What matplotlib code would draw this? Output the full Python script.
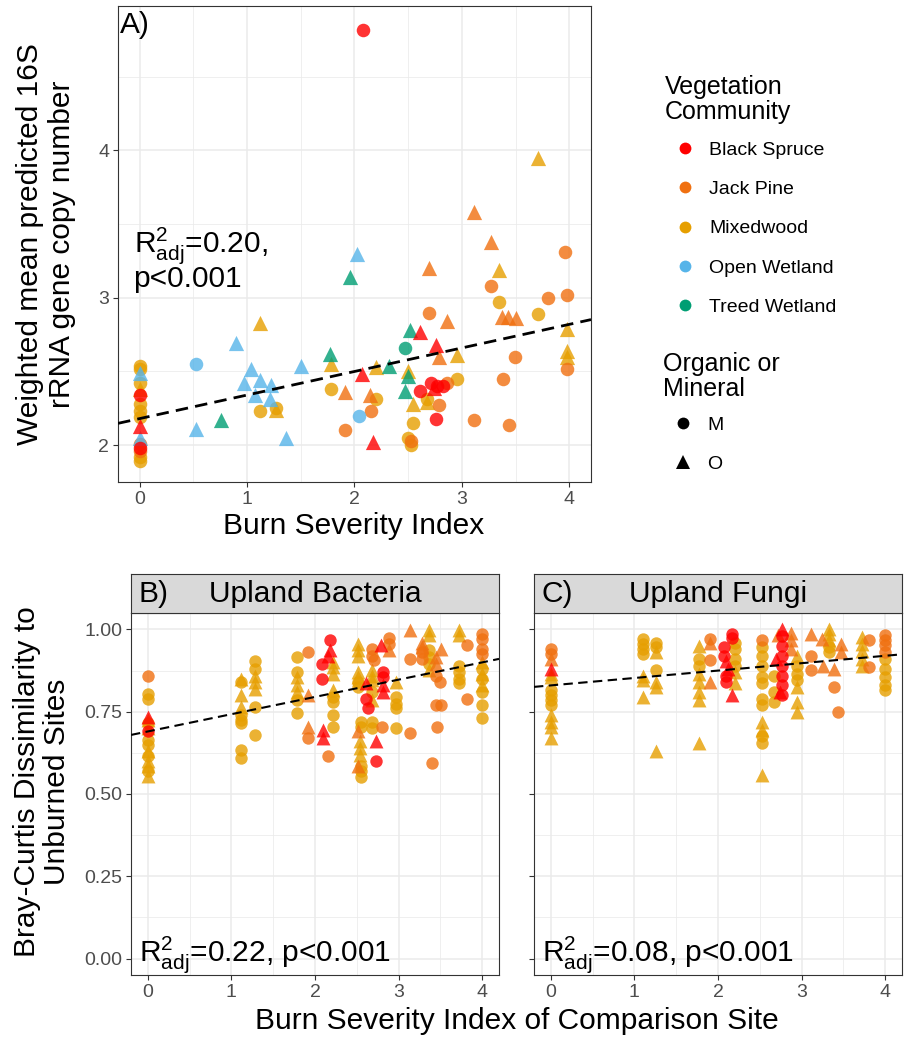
import numpy as np
import matplotlib
matplotlib.use("Agg")
import matplotlib.pyplot as plt
from matplotlib.lines import Line2D
from matplotlib.ticker import FixedLocator, FormatStrFormatter

plt.rcParams['font.family'] = ['Liberation Sans', 'DejaVu Sans']
plt.rcParams['mathtext.fontset'] = 'custom'
plt.rcParams['mathtext.rm'] = 'Liberation Sans'
plt.rcParams['mathtext.it'] = 'Liberation Sans:italic'
plt.rcParams['mathtext.bf'] = 'Liberation Sans:bold'

# ---------------- data ----------------
veg_codes = ['BS', 'JP', 'MW', 'OW', 'TW']
veg_names = ['Black Spruce', 'Jack Pine', 'Mixedwood', 'Open Wetland', 'Treed Wetland']
veg_colors = ['#FF0000', '#F07010', '#E69F00', '#56B4E9', '#009E73']
soil_codes = ['M', 'O']

# Panel A: weighted mean predicted 16S copy number vs burn severity
a_x = [0, 0, 0, 0, 0, 0, 0, 0, 0, 0, 0, 0, 0, 0, 0, 0,
       0.53, 0.53, 0.76, 0.90, 1.12, 1.04, 0.97, 1.12, 1.22, 1.07, 1.21, 1.36,
       1.12, 1.27, 1.27, 1.50, 1.77, 1.78, 1.78, 1.91, 1.91, 2.02, 1.96, 2.04,
       2.08, 3.71, 3.11, 3.27, 3.34, 2.69, 3.96, 3.27, 3.80, 3.98, 3.34,
       3.37, 3.43, 3.50, 3.71, 2.69, 2.86, 3.98, 3.98, 3.98, 3.98, 3.49, 3.38,
       3.11, 3.44, 2.52, 2.61, 2.47, 2.76, 2.79, 2.95, 2.32, 2.20, 2.07, 2.50,
       2.50, 2.47, 2.95, 2.71, 2.77, 2.82, 2.74, 2.61, 2.86, 2.54, 2.67, 2.67,
       2.14, 2.20, 2.15, 2.17, 2.54, 2.50, 2.53, 2.53, 2.79, 2.76]
a_y = [2.54, 2.52, 2.49, 2.42, 2.38, 2.34, 2.28, 2.23, 2.19, 2.13, 2.05, 2.01, 1.98, 1.96, 1.92, 1.89,
       2.55, 2.11, 2.17, 2.69, 2.83, 2.52, 2.42, 2.44, 2.41, 2.34, 2.31, 2.05,
       2.23, 2.24, 2.25, 2.54, 2.62, 2.55, 2.38, 2.36, 2.10, 3.30, 3.14, 2.20,
       4.82, 3.95, 3.58, 3.38, 3.19, 3.20, 3.31, 3.08, 3.00, 3.02, 2.97,
       2.87, 2.87, 2.86, 2.89, 2.90, 2.84, 2.79, 2.64, 2.60, 2.52, 2.60, 2.45,
       2.17, 2.14, 2.78, 2.77, 2.66, 2.68, 2.60, 2.61, 2.54, 2.53, 2.48, 2.50,
       2.47, 2.37, 2.45, 2.42, 2.40, 2.40, 2.39, 2.37, 2.42, 2.28, 2.31, 2.29,
       2.34, 2.31, 2.23, 2.02, 2.15, 2.05, 2.00, 2.03, 2.27, 2.18]
a_veg = ['MW', 'MW', 'OW', 'MW', 'MW', 'BS', 'MW', 'MW', 'MW', 'BS', 'OW', 'JP', 'BS', 'JP', 'MW', 'MW',
         'OW', 'OW', 'TW', 'OW', 'MW', 'OW', 'OW', 'OW', 'OW', 'OW', 'OW', 'OW',
         'MW', 'MW', 'MW', 'OW', 'TW', 'MW', 'MW', 'JP', 'JP', 'OW', 'TW', 'OW',
         'BS', 'MW', 'JP', 'JP', 'MW', 'JP', 'JP', 'JP', 'JP', 'JP', 'MW',
         'JP', 'JP', 'JP', 'MW', 'JP', 'JP', 'MW', 'MW', 'MW', 'JP', 'JP', 'JP',
         'JP', 'JP', 'TW', 'BS', 'TW', 'BS', 'JP', 'MW', 'TW', 'MW', 'BS', 'MW',
         'TW', 'TW', 'MW', 'BS', 'BS', 'BS', 'BS', 'BS', 'JP', 'MW', 'MW', 'MW',
         'JP', 'MW', 'JP', 'BS', 'MW', 'MW', 'MW', 'JP', 'JP', 'BS']
a_soil = ['M', 'M', 'O', 'M', 'O', 'M', 'M', 'M', 'M', 'O', 'O', 'M', 'M', 'M', 'M', 'M',
          'M', 'O', 'O', 'O', 'O', 'O', 'O', 'O', 'O', 'O', 'O', 'O',
          'M', 'O', 'M', 'O', 'O', 'O', 'M', 'O', 'M', 'O', 'O', 'M',
          'M', 'O', 'O', 'O', 'O', 'O', 'M', 'M', 'M', 'M', 'M',
          'O', 'O', 'O', 'M', 'M', 'O', 'O', 'O', 'O', 'M', 'M', 'M',
          'M', 'M', 'O', 'O', 'M', 'O', 'O', 'O', 'O', 'O', 'O', 'O',
          'O', 'O', 'M', 'M', 'M', 'M', 'O', 'M', 'M', 'O', 'M', 'O',
          'O', 'M', 'M', 'O', 'M', 'M', 'M', 'M', 'M', 'M']
fit_a = (2.18, 0.16)

# Panel B: upland bacteria, Bray-Curtis dissimilarity to unburned sites
b_x = [0, 0, 0, 0, 0, 0, 0, 0, 0, 0, 0, 0, 0, 0, 0, 0,
       1.11, 1.11, 1.11, 1.11, 1.11, 1.11, 1.11, 1.11, 1.11,
       1.28, 1.28, 1.28, 1.28, 1.28, 1.28, 1.28,
       1.79, 1.79, 1.79, 1.79, 1.79, 1.79, 1.79,
       1.92, 1.92, 1.92, 1.92, 2.15,
       2.18, 2.18, 2.15, 2.08, 2.08, 2.09, 2.09,
       2.21, 2.21, 2.21, 2.21, 2.21, 2.21, 2.21, 2.21,
       2.52, 2.52, 2.52, 2.52, 2.52, 2.52, 2.52, 2.55, 2.55, 2.52, 2.54, 2.54, 2.54, 2.55, 2.55, 2.55, 2.52,
       2.68, 2.68, 2.70, 2.68, 2.68, 2.68, 2.61, 2.68, 2.61, 2.63, 2.68, 2.68, 2.68, 2.80, 2.73, 2.73,
       2.79, 2.88, 2.88, 2.88, 2.81, 2.81, 2.81, 2.81, 2.97, 2.97, 2.97, 2.97, 2.97,
       3.13, 3.13, 3.13, 3.36, 3.36, 3.28, 3.28, 3.36, 3.36, 3.36, 3.28, 3.28, 3.36,
       3.51, 3.45, 3.45, 3.45, 3.50, 3.45, 3.51, 3.46, 3.40, 3.82, 3.82,
       3.72, 3.72, 3.72, 3.72, 3.72, 3.72,
       4.0, 4.0, 4.0, 4.0, 4.0, 4.0, 4.0, 4.0, 4.0, 4.0, 4.0, 4.0]
b_y = [0.86, 0.805, 0.79, 0.735, 0.725, 0.715, 0.70, 0.69, 0.665, 0.65, 0.63, 0.615, 0.60, 0.585, 0.57, 0.555,
       0.85, 0.84, 0.80, 0.765, 0.74, 0.725, 0.715, 0.635, 0.61,
       0.905, 0.88, 0.86, 0.84, 0.82, 0.765, 0.68,
       0.915, 0.87, 0.855, 0.83, 0.81, 0.785, 0.745,
       0.93, 0.80, 0.705, 0.67, 0.615,
       0.967, 0.937, 0.92, 0.896, 0.85, 0.695, 0.67,
       0.90, 0.886, 0.866, 0.815, 0.795, 0.78, 0.74, 0.705,
       0.957, 0.937, 0.92, 0.87, 0.856, 0.84, 0.826, 0.72, 0.705, 0.69, 0.66, 0.64, 0.62, 0.584, 0.57, 0.553, 0.584,
       0.94, 0.92, 0.906, 0.876, 0.86, 0.846, 0.836, 0.81, 0.79, 0.76, 0.785, 0.72, 0.70, 0.705, 0.66, 0.60,
       0.954, 0.974, 0.957, 0.937, 0.87, 0.856, 0.83, 0.81, 0.84, 0.795, 0.775, 0.76, 0.70,
       0.997, 0.91, 0.685, 0.997, 0.982, 0.96, 0.947, 0.937, 0.916, 0.896, 0.93, 0.91, 0.876,
       0.94, 0.916, 0.896, 0.86, 0.84, 0.77, 0.77, 0.705, 0.594, 0.952, 0.79,
       0.997, 0.982, 0.89, 0.87, 0.85, 0.836,
       0.985, 0.97, 0.94, 0.925, 0.90, 0.88, 0.865, 0.85, 0.83, 0.81, 0.77, 0.73]
b_veg = ['JP', 'MW', 'MW', 'BS', 'MW', 'MW', 'MW', 'BS', 'MW', 'MW', 'MW', 'MW', 'MW', 'MW', 'MW', 'MW',
         'MW', 'MW', 'MW', 'MW', 'MW', 'MW', 'MW', 'MW', 'MW',
         'MW', 'MW', 'MW', 'MW', 'MW', 'MW', 'MW',
         'MW', 'MW', 'MW', 'MW', 'MW', 'MW', 'MW',
         'JP', 'JP', 'JP', 'JP', 'JP',
         'BS', 'BS', 'BS', 'BS', 'BS', 'BS', 'BS',
         'MW', 'MW', 'MW', 'MW', 'MW', 'MW', 'MW', 'MW',
         'MW', 'MW', 'MW', 'MW', 'MW', 'MW', 'MW', 'MW', 'MW', 'JP', 'MW', 'MW', 'MW', 'MW', 'MW', 'MW', 'JP',
         'JP', 'JP', 'JP', 'MW', 'MW', 'MW', 'BS', 'MW', 'BS', 'BS', 'MW', 'MW', 'MW', 'JP', 'BS', 'BS',
         'BS', 'JP', 'JP', 'JP', 'BS', 'BS', 'BS', 'BS', 'MW', 'MW', 'MW', 'MW', 'MW',
         'JP', 'JP', 'JP', 'MW', 'MW', 'JP', 'JP', 'MW', 'MW', 'MW', 'JP', 'JP', 'MW',
         'JP', 'JP', 'JP', 'JP', 'JP', 'JP', 'JP', 'JP', 'JP', 'JP', 'JP',
         'MW', 'MW', 'MW', 'MW', 'MW', 'MW',
         'JP', 'JP', 'JP', 'JP', 'MW', 'MW', 'MW', 'MW', 'MW', 'MW', 'MW', 'MW']
b_soil = ['M', 'M', 'M', 'O', 'O', 'M', 'O', 'M', 'M', 'M', 'O', 'M', 'O', 'O', 'M', 'O',
          'O', 'M', 'O', 'O', 'M', 'M', 'M', 'M', 'M',
          'M', 'M', 'O', 'O', 'O', 'M', 'M',
          'M', 'M', 'O', 'O', 'O', 'M', 'M',
          'M', 'O', 'O', 'M', 'M',
          'M', 'O', 'O', 'M', 'M', 'O', 'O',
          'O', 'O', 'O', 'O', 'M', 'M', 'M', 'M',
          'O', 'O', 'O', 'O', 'O', 'M', 'M', 'M', 'M', 'O', 'O', 'O', 'O', 'M', 'M', 'M', 'O',
          'M', 'M', 'M', 'O', 'O', 'O', 'O', 'M', 'M', 'M', 'O', 'M', 'M', 'M', 'O', 'M',
          'O', 'M', 'M', 'O', 'M', 'M', 'O', 'O', 'O', 'M', 'M', 'M', 'M',
          'O', 'M', 'M', 'O', 'O', 'O', 'O', 'M', 'M', 'M', 'M', 'M', 'O',
          'O', 'O', 'O', 'M', 'M', 'M', 'M', 'M', 'M', 'M', 'M',
          'O', 'O', 'M', 'M', 'M', 'M',
          'M', 'M', 'M', 'M', 'O', 'M', 'O', 'M', 'O', 'M', 'M', 'M']
fit_b = (0.69, 0.0525)

# Panel C: upland fungi
c_x = [0, 0, 0, 0, 0, 0, 0, 0, 0, 0, 0, 0, 0, 0,
       1.10, 1.10, 1.10, 1.10, 1.10, 1.10, 1.10,
       1.26, 1.26, 1.26, 1.26, 1.26, 1.26, 1.26,
       1.77, 1.77, 1.77, 1.77, 1.77, 1.77, 1.77, 1.77,
       1.90, 1.90, 1.90, 1.90,
       2.17, 2.17, 2.07, 2.07, 2.09, 2.09, 2.09, 2.17, 2.12,
       2.20, 2.20, 2.20, 2.20, 2.20, 2.20,
       2.53, 2.53, 2.53, 2.53, 2.53, 2.53, 2.53, 2.53, 2.53, 2.53, 2.53, 2.53, 2.53,
       2.72, 2.76, 2.76, 2.76, 2.76, 2.76, 2.76, 2.76, 2.76, 2.67, 2.67, 2.67,
       2.87, 2.87, 2.87, 2.69, 2.74, 2.95, 2.95, 2.95, 2.95, 2.95, 2.95, 2.95,
       3.11, 3.11, 3.11, 3.33, 3.33, 3.33, 3.33, 3.33, 3.24, 3.26, 3.47, 3.47, 3.39, 3.39, 3.44,
       3.72, 3.72, 3.72, 3.72, 3.72, 3.81, 3.81,
       4.0, 4.0, 4.0, 4.0, 4.0, 4.0, 4.0, 4.0, 4.0]
c_y = [0.94, 0.925, 0.91, 0.88, 0.866, 0.856, 0.815, 0.80, 0.785, 0.77, 0.74, 0.72, 0.705, 0.67,
       0.972, 0.957, 0.94, 0.926, 0.86, 0.846, 0.795,
       0.96, 0.946, 0.93, 0.876, 0.84, 0.826, 0.63,
       0.95, 0.91, 0.89, 0.866, 0.84, 0.81, 0.785, 0.655,
       0.972, 0.96, 0.906, 0.84,
       0.987, 0.975, 0.947, 0.92, 0.905, 0.86, 0.84, 0.80, 0.88,
       0.96, 0.94, 0.91, 0.89, 0.87, 0.836,
       0.967, 0.947, 0.92, 0.89, 0.856, 0.836, 0.79, 0.77, 0.72, 0.695, 0.675, 0.655, 0.558,
       0.982, 1.00, 0.98, 0.95, 0.92, 0.89, 0.86, 0.83, 0.80, 0.86, 0.81, 0.78,
       0.99, 0.967, 0.94, 0.91, 0.81, 0.92, 0.89, 0.866, 0.846, 0.826, 0.78, 0.75,
       0.987, 0.92, 0.876, 1.0, 0.987, 0.967, 0.947, 0.93, 0.97, 0.89, 0.957, 0.93, 0.88, 0.826, 0.75,
       0.977, 0.957, 0.936, 0.91, 0.89, 0.967, 0.886,
       0.982, 0.967, 0.952, 0.93, 0.91, 0.88, 0.856, 0.83, 0.815]
c_veg = ['JP', 'JP', 'JP', 'BS', 'MW', 'MW', 'MW', 'MW', 'MW', 'MW', 'MW', 'MW', 'MW', 'MW',
         'MW', 'MW', 'MW', 'MW', 'MW', 'MW', 'MW',
         'MW', 'MW', 'MW', 'MW', 'MW', 'MW', 'MW',
         'MW', 'MW', 'MW', 'MW', 'MW', 'MW', 'MW', 'MW',
         'JP', 'JP', 'JP', 'JP',
         'BS', 'BS', 'BS', 'BS', 'BS', 'BS', 'BS', 'BS', 'BS',
         'MW', 'MW', 'MW', 'MW', 'MW', 'MW',
         'JP', 'MW', 'MW', 'MW', 'MW', 'MW', 'MW', 'MW', 'MW', 'MW', 'MW', 'MW', 'MW',
         'JP', 'BS', 'BS', 'BS', 'BS', 'BS', 'BS', 'BS', 'BS', 'MW', 'MW', 'MW',
         'JP', 'JP', 'JP', 'BS', 'BS', 'MW', 'MW', 'MW', 'MW', 'MW', 'MW', 'MW',
         'JP', 'JP', 'JP', 'MW', 'MW', 'MW', 'MW', 'MW', 'JP', 'JP', 'JP', 'JP', 'JP', 'JP', 'JP',
         'MW', 'MW', 'MW', 'MW', 'MW', 'JP', 'JP',
         'JP', 'JP', 'JP', 'JP', 'MW', 'MW', 'MW', 'MW', 'MW']
c_soil = ['M', 'M', 'O', 'O', 'O', 'O', 'M', 'M', 'M', 'M', 'O', 'O', 'O', 'O',
          'M', 'M', 'M', 'M', 'O', 'O', 'O',
          'M', 'M', 'O', 'M', 'O', 'O', 'O',
          'O', 'M', 'M', 'O', 'O', 'O', 'O', 'O',
          'M', 'O', 'M', 'O',
          'M', 'M', 'M', 'M', 'O', 'M', 'M', 'O', 'O',
          'M', 'M', 'M', 'M', 'O', 'O',
          'M', 'M', 'M', 'M', 'M', 'M', 'M', 'M', 'O', 'O', 'M', 'M', 'O',
          'O', 'O', 'M', 'M', 'M', 'M', 'M', 'M', 'M', 'M', 'M', 'M',
          'O', 'O', 'O', 'O', 'O', 'O', 'M', 'M', 'M', 'O', 'O', 'O',
          'O', 'M', 'M', 'O', 'O', 'O', 'M', 'M', 'O', 'O', 'O', 'O', 'O', 'M', 'M',
          'O', 'O', 'O', 'O', 'O', 'M', 'M',
          'M', 'M', 'M', 'M', 'M', 'M', 'M', 'M', 'M']
fit_c = (0.83, 0.0225)

a_xticks = [0, 1, 2, 3, 4]
a_yticks = [2, 3, 4]
b_yticks = [0.00, 0.25, 0.50, 0.75, 1.00]
panel_titles = ['Upland Bacteria', 'Upland Fungi']
panel_tags = ['B)', 'C)']
r2_texts = ['0.22', '0.08']

# ---------------- style ----------------
W, H = 907, 1044
fig = plt.figure(figsize=(W / 100, H / 100), dpi=100)
fig.patch.set_facecolor('white')

BORDER = '#333333'
GRID = '#EBEBEB'
TICKTXT = '#4D4D4D'
ALPHA = 0.8
BIG = 21.5
draw_order = ['MW', 'JP', 'OW', 'TW', 'BS']


def rect(l, t, r, b):
    return [l / W, 1 - b / H, (r - l) / W, (b - t) / H]


def style_axes(ax, xlim, ylim, xticks, yticks, xminor, yminor, show_ylabels=True):
    ax.set_xlim(*xlim)
    ax.set_ylim(*ylim)
    ax.xaxis.set_major_locator(FixedLocator(xticks))
    ax.yaxis.set_major_locator(FixedLocator(yticks))
    ax.xaxis.set_minor_locator(FixedLocator(xminor))
    ax.yaxis.set_minor_locator(FixedLocator(yminor))
    ax.grid(which='major', color=GRID, lw=1.1, zorder=0)
    ax.grid(which='minor', color=GRID, lw=0.55, zorder=0)
    ax.set_axisbelow(True)
    ax.tick_params(which='major', length=3.6, width=0.8, color=BORDER,
                   labelsize=14, labelcolor=TICKTXT, pad=2.8)
    ax.tick_params(which='minor', length=0)
    if not show_ylabels:
        ax.tick_params(axis='y', labelleft=False)
    for sp in ax.spines.values():
        sp.set_color(BORDER)
        sp.set_linewidth(0.8)


def draw_points(ax, xs, ys, vegs, soils, s_circ, s_tri):
    for code in draw_order:
        col = veg_colors[veg_codes.index(code)]
        for soil, mk, s in (('M', 'o', s_circ), ('O', '^', s_tri)):
            px = [xs[i] for i in range(len(xs)) if vegs[i] == code and soils[i] == soil]
            py = [ys[i] for i in range(len(xs)) if vegs[i] == code and soils[i] == soil]
            if px:
                ax.scatter(px, py, marker=mk, s=s, color=col, alpha=ALPHA,
                           linewidths=0, zorder=3)


# ---------------- Panel A ----------------
axA = fig.add_axes(rect(118, 6, 591, 482))
style_axes(axA, (-0.2, 4.2), (1.75, 4.98), a_xticks, a_yticks,
           [0.5, 1.5, 2.5, 3.5], [2.5, 3.5, 4.5])
draw_points(axA, a_x, a_y, a_veg, a_soil, 95, 120)
xl = np.array([-0.2, 4.2])
axA.plot(xl, fit_a[0] + fit_a[1] * xl, color='black', lw=2.0,
         dashes=(4.5, 2.6), zorder=4)
axA.text(-0.18, 4.85, 'A)', fontsize=BIG, va='center', ha='left', zorder=5)
axA.text(-0.055, 3.31, r'$\mathrm{R}^{2}_{\mathrm{adj}}$=0.20,', fontsize=BIG,
         va='baseline', ha='left', zorder=5)
axA.text(-0.055, 3.075, 'p<0.001', fontsize=BIG, va='baseline', ha='left', zorder=5)
fig.text(354 / W, 1 - 526 / H, 'Burn Severity Index', fontsize=BIG,
         ha='center', va='center')
fig.text(46 / W, 1 - 244 / H, 'Weighted mean predicted 16S\nrRNA gene copy number',
         rotation=90, fontsize=BIG, ha='center', va='center', multialignment='center',
         linespacing=1.15)

# ---------------- Legends ----------------
fig.text(665 / W, 1 - 94 / H, 'Vegetation', fontsize=18, ha='left', va='baseline')
fig.text(665 / W, 1 - 119 / H, 'Community', fontsize=18, ha='left', va='baseline')
veg_handles = [Line2D([], [], marker='o', ls='', color=c, markersize=8.5, markeredgewidth=0)
               for c in veg_colors]
leg1 = fig.legend(veg_handles, veg_names,
                  loc='upper left', bbox_to_anchor=(665 / W, 1 - 141 / H),
                  frameon=False, fontsize=14, labelspacing=1.12,
                  handletextpad=0.22, handlelength=2.05, borderpad=0, borderaxespad=0)
fig.text(663 / W, 1 - 371 / H, 'Organic or', fontsize=18, ha='left', va='baseline')
fig.text(663 / W, 1 - 396 / H, 'Mineral', fontsize=18, ha='left', va='baseline')
soil_handles = [Line2D([], [], marker='o', ls='', color='black', markersize=8.5, markeredgewidth=0),
                Line2D([], [], marker='^', ls='', color='black', markersize=9.5, markeredgewidth=0)]
leg2 = fig.legend(soil_handles, soil_codes,
                  loc='upper left', bbox_to_anchor=(663 / W, 1 - 416 / H),
                  frameon=False, fontsize=14, labelspacing=1.12,
                  handletextpad=0.22, handlelength=2.05, borderpad=0, borderaxespad=0)

# ---------------- Panels B & C ----------------
panel_lr = [(131, 499), (534, 902)]
datasets = [(b_x, b_y, b_veg, b_soil, fit_b), (c_x, c_y, c_veg, c_soil, fit_c)]
for k, ((l, r), (xs, ys, vg, sl, fit)) in enumerate(zip(panel_lr, datasets)):
    ax = fig.add_axes(rect(l, 613, r, 975))
    style_axes(ax, (-0.2, 4.2), (-0.05, 1.05), a_xticks, b_yticks,
               [0.5, 1.5, 2.5, 3.5], [0.125, 0.375, 0.625, 0.875],
               show_ylabels=(k == 0))
    ax.yaxis.set_major_formatter(FormatStrFormatter('%.2f'))
    draw_points(ax, xs, ys, vg, sl, 80, 100)
    ax.plot(xl, fit[0] + fit[1] * xl, color='black', lw=1.5,
            dashes=(4.5, 2.6), zorder=4)
    ax.text(-0.11, -0.008, r'$\mathrm{R}^{2}_{\mathrm{adj}}$=' + r2_texts[k] + ', p<0.001',
            fontsize=BIG, va='baseline', ha='left', zorder=5)
    # strip
    sax = fig.add_axes(rect(l, 574, r, 613))
    sax.set_facecolor('#D9D9D9')
    sax.set_xticks([])
    sax.set_yticks([])
    for sp in sax.spines.values():
        sp.set_color(BORDER)
        sp.set_linewidth(0.8)
    sax.text(0.02, 0.48, panel_tags[k], fontsize=BIG, ha='left', va='center',
             transform=sax.transAxes)
    sax.text(0.5, 0.48, panel_titles[k], fontsize=BIG, ha='center', va='center',
             transform=sax.transAxes)

fig.text(42 / W, 1 - 782 / H, 'Bray-Curtis Dissimilarity to\nUnburned Sites',
         rotation=90, fontsize=BIG, ha='center', va='center', multialignment='center',
         linespacing=1.05)
fig.text((131 + 902) / 2 / W, 1 - 1021 / H, 'Burn Severity Index of Comparison Site',
         fontsize=BIG, ha='center', va='center')

fig.savefig('out.png', dpi=100, facecolor='white')
